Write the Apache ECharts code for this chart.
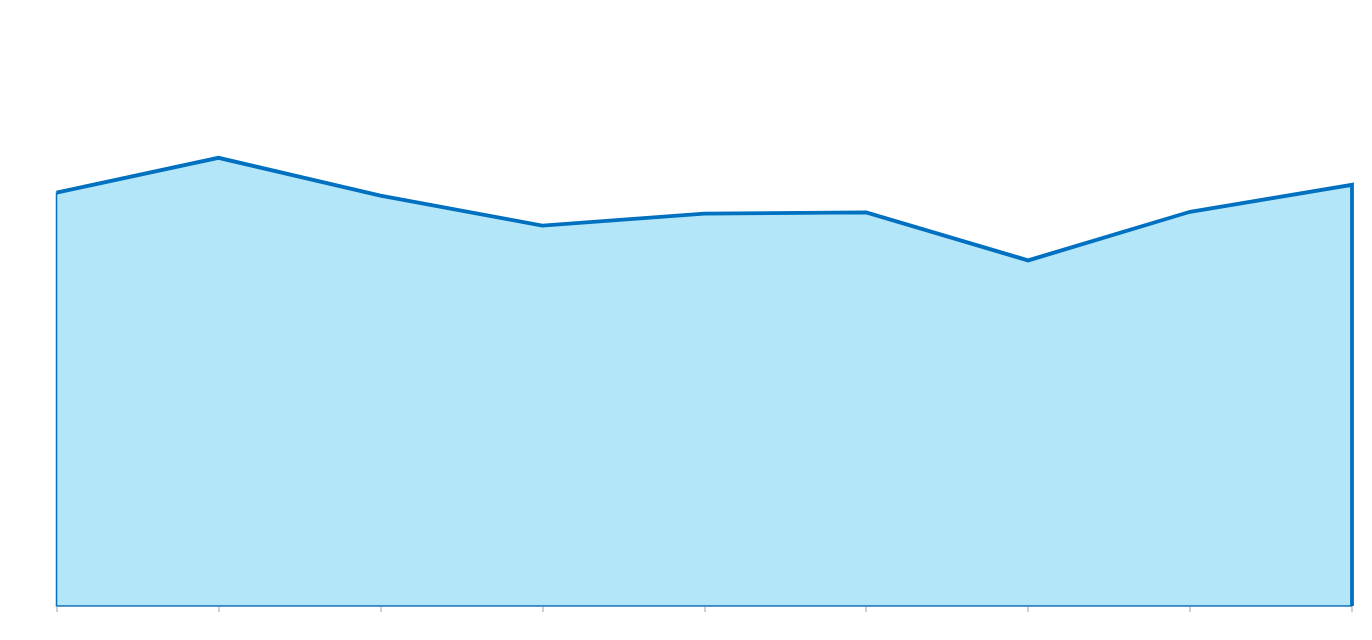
<!DOCTYPE html>
<html>
<head>
<meta charset="utf-8">
<script src="https://cdn.jsdelivr.net/npm/echarts@6/dist/echarts.min.js"></script>
<style>
html,body{margin:0;padding:0;background:#fff;}
#chart{width:1372px;height:640px;}
</style>
</head>
<body>
<div id="chart"></div>
<script>
// 9 points, no labels on the axis
var positions = [0, 1, 2, 3, 4, 5, 6, 7, 8];
var values = [68.9, 74.7, 68.4, 63.4, 65.4, 65.6, 57.6, 65.7, 70.2];

var last = positions.length - 1;
var lineData = [];
for (var i = 0; i < positions.length; i++) {
	lineData.push([positions[i], values[i]]);
}
// line drops down at the right end
lineData.push([positions[last], 0]);

// thin outline on left and bottom
var edgeData = [[positions[0], values[0]], [positions[0], 0], [positions[last], 0]];

var myChart = echarts.init(document.getElementById('chart'));
var option = {
	animation: false,
	grid: {left: 56.5, right: 20, top: 6, bottom: 34},
	xAxis: {
		type: 'value',
		min: 0,
		max: last,
		interval: 1,
		offset: 2.5,
		axisLine: {show: true, lineStyle: {color: '#D0D0D0', width: 2}},
		axisTick: {show: true, length: 6, lineStyle: {color: '#D0D0D0', width: 2}},
		axisLabel: {show: false},
		splitLine: {show: false}
	},
	yAxis: {
		type: 'value',
		min: 0,
		max: 100,
		show: false,
		splitLine: {show: false}
	},
	series: [
		{
			type: 'line',
			data: lineData,
			symbol: 'none',
			lineStyle: {color: '#0070C0', width: 3.8, join: 'miter'},
			areaStyle: {color: '#B3E6F8', opacity: 1},
			z: 2
		},
		{
			type: 'line',
			data: edgeData,
			symbol: 'none',
			lineStyle: {color: '#0070C0', width: 1.5},
			z: 3
		}
	]
};
myChart.setOption(option);
</script>
</body>
</html>
